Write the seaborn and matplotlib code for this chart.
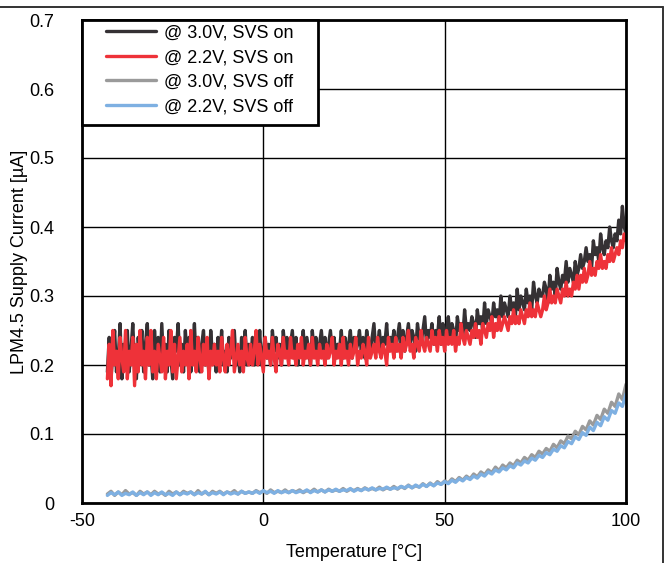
import matplotlib
matplotlib.use("Agg")
import matplotlib.pyplot as plt
from matplotlib.lines import Line2D
from matplotlib.patches import Rectangle
import numpy as np
import pandas as pd
import seaborn as sns

# Sweep range [degC]
t_start, t_stop = -43, 100

# LPM4.5 supply current [uA], 3.0 V, SVS on (0.5 degC steps)
i_30_svs_on = [
    0.19, 0.24, 0.18, 0.22, 0.25, 0.19, 0.21, 0.26, 0.18, 0.23, 0.20, 0.25, 0.19, 0.22, 0.26, 0.20, 0.18, 0.24, 0.21, 0.25,
    0.19, 0.23, 0.26, 0.20, 0.22, 0.18, 0.25, 0.21, 0.24, 0.19, 0.26, 0.20, 0.23, 0.19, 0.25, 0.21, 0.18, 0.24, 0.22, 0.26,
    0.20, 0.23, 0.19, 0.25, 0.21, 0.24, 0.19, 0.22, 0.26, 0.20, 0.24, 0.19, 0.23, 0.25, 0.20, 0.22, 0.19, 0.25, 0.21, 0.23,
    0.19, 0.24, 0.21, 0.25, 0.20, 0.22, 0.19, 0.24, 0.21, 0.23, 0.25, 0.20, 0.22, 0.19, 0.24, 0.21, 0.25, 0.20, 0.23, 0.21,
    0.24, 0.20, 0.23, 0.21, 0.25, 0.20, 0.22, 0.24, 0.21, 0.23, 0.20, 0.25, 0.22, 0.24, 0.21, 0.23, 0.20, 0.25, 0.22, 0.24,
    0.21, 0.23, 0.25, 0.21, 0.24, 0.20, 0.23, 0.22, 0.25, 0.21, 0.24, 0.22, 0.20, 0.25, 0.22, 0.24, 0.21, 0.23, 0.25, 0.22,
    0.24, 0.21, 0.23, 0.25, 0.22, 0.24, 0.21, 0.23, 0.22, 0.25, 0.21, 0.24, 0.22, 0.23, 0.25, 0.21, 0.24, 0.22, 0.23, 0.25,
    0.22, 0.24, 0.21, 0.25, 0.23, 0.22, 0.24, 0.26, 0.22, 0.23, 0.25, 0.22, 0.24, 0.23, 0.26, 0.22, 0.24, 0.23, 0.25, 0.22,
    0.24, 0.26, 0.23, 0.25, 0.22, 0.24, 0.26, 0.23, 0.25, 0.24, 0.22, 0.26, 0.24, 0.23, 0.25, 0.27, 0.23, 0.25, 0.24, 0.26,
    0.23, 0.25, 0.24, 0.27, 0.23, 0.26, 0.24, 0.25, 0.27, 0.24, 0.26, 0.25, 0.23, 0.27, 0.25, 0.26, 0.24, 0.28, 0.25, 0.26,
    0.25, 0.27, 0.26, 0.24, 0.28, 0.26, 0.27, 0.25, 0.29, 0.26, 0.28, 0.27, 0.26, 0.29, 0.27, 0.28, 0.26, 0.30, 0.27, 0.29,
    0.28, 0.27, 0.30, 0.28, 0.29, 0.27, 0.31, 0.28, 0.30, 0.29, 0.28, 0.31, 0.29, 0.30, 0.28, 0.32, 0.30, 0.29, 0.31, 0.30,
    0.30, 0.32, 0.31, 0.29, 0.33, 0.31, 0.32, 0.30, 0.34, 0.32, 0.31, 0.33, 0.32, 0.35, 0.32, 0.34, 0.33, 0.32, 0.35, 0.33,
    0.34, 0.36, 0.34, 0.35, 0.37, 0.35, 0.36, 0.34, 0.38, 0.36, 0.37, 0.35, 0.39, 0.37, 0.36, 0.38, 0.37, 0.40, 0.38, 0.37,
    0.39, 0.38, 0.41, 0.39, 0.43, 0.40, 0.39,
]

# 2.2 V, SVS on (0.5 degC steps)
i_22_svs_on = [
    0.18, 0.23, 0.17, 0.25, 0.20, 0.22, 0.18, 0.24, 0.21, 0.19, 0.25, 0.18, 0.22, 0.20, 0.24, 0.17, 0.23, 0.19, 0.25, 0.20,
    0.22, 0.18, 0.24, 0.20, 0.25, 0.19, 0.22, 0.18, 0.23, 0.21, 0.19, 0.24, 0.18, 0.22, 0.20, 0.25, 0.19, 0.23, 0.18, 0.21,
    0.24, 0.19, 0.22, 0.20, 0.23, 0.18, 0.25, 0.20, 0.22, 0.19, 0.24, 0.21, 0.19, 0.23, 0.20, 0.24, 0.18, 0.22, 0.20, 0.23,
    0.20, 0.22, 0.19, 0.24, 0.21, 0.19, 0.23, 0.20, 0.22, 0.25, 0.19, 0.21, 0.23, 0.20, 0.22, 0.19, 0.24, 0.21, 0.20, 0.23,
    0.20, 0.22, 0.25, 0.20, 0.23, 0.21, 0.19, 0.24, 0.21, 0.22, 0.20, 0.24, 0.21, 0.19, 0.23, 0.22, 0.20, 0.24, 0.21, 0.22,
    0.20, 0.24, 0.21, 0.22, 0.20, 0.23, 0.21, 0.24, 0.20, 0.22, 0.21, 0.23, 0.20, 0.24, 0.21, 0.22, 0.20, 0.23, 0.21, 0.22,
    0.20, 0.23, 0.21, 0.22, 0.24, 0.20, 0.22, 0.21, 0.23, 0.20, 0.24, 0.21, 0.22, 0.20, 0.23, 0.21, 0.22, 0.24, 0.20, 0.22,
    0.21, 0.23, 0.22, 0.20, 0.24, 0.21, 0.22, 0.23, 0.21, 0.24, 0.22, 0.21, 0.23, 0.22, 0.20, 0.24, 0.22, 0.23, 0.21, 0.24,
    0.22, 0.23, 0.21, 0.24, 0.22, 0.23, 0.25, 0.22, 0.23, 0.21, 0.24, 0.23, 0.22, 0.25, 0.23, 0.22, 0.24, 0.23, 0.22, 0.25,
    0.23, 0.24, 0.22, 0.25, 0.23, 0.24, 0.22, 0.25, 0.23, 0.24, 0.23, 0.25, 0.22, 0.24, 0.23, 0.26, 0.24, 0.23, 0.25, 0.24,
    0.23, 0.25, 0.24, 0.26, 0.24, 0.25, 0.23, 0.26, 0.25, 0.24, 0.26, 0.25, 0.27, 0.24, 0.26, 0.25, 0.27, 0.25, 0.26, 0.27,
    0.26, 0.25, 0.27, 0.26, 0.28, 0.26, 0.27, 0.26, 0.28, 0.27, 0.26, 0.28, 0.27, 0.29, 0.27, 0.28, 0.27, 0.29, 0.28, 0.27,
    0.28, 0.30, 0.28, 0.29, 0.31, 0.29, 0.30, 0.29, 0.31, 0.30, 0.29, 0.31, 0.30, 0.32, 0.30, 0.31, 0.30, 0.32, 0.31, 0.33,
    0.31, 0.33, 0.32, 0.34, 0.32, 0.33, 0.35, 0.33, 0.34, 0.33, 0.35, 0.34, 0.36, 0.34, 0.35, 0.34, 0.36, 0.35, 0.37, 0.35,
    0.36, 0.37, 0.36, 0.38, 0.37, 0.39, 0.38,
]

# 3.0 V, SVS off (1 degC steps)
i_30_svs_off = [
    0.013, 0.017, 0.011, 0.016, 0.012, 0.018, 0.013, 0.015, 0.011, 0.017,
    0.013, 0.016, 0.012, 0.017, 0.013, 0.015, 0.011, 0.017, 0.013, 0.016,
    0.012, 0.017, 0.014, 0.016, 0.012, 0.018, 0.013, 0.016, 0.012, 0.017,
    0.014, 0.017, 0.013, 0.016, 0.014, 0.018, 0.013, 0.017, 0.014, 0.016,
    0.014, 0.018, 0.015, 0.017, 0.014, 0.019, 0.015, 0.017, 0.015, 0.019,
    0.015, 0.018, 0.016, 0.019, 0.015, 0.018, 0.016, 0.020, 0.016, 0.019,
    0.016, 0.020, 0.017, 0.019, 0.017, 0.021, 0.017, 0.020, 0.018, 0.021,
    0.018, 0.022, 0.019, 0.021, 0.019, 0.023, 0.019, 0.022, 0.020, 0.024,
    0.020, 0.024, 0.021, 0.026, 0.022, 0.025, 0.023, 0.028, 0.024, 0.029,
    0.025, 0.031, 0.027, 0.032, 0.029, 0.035, 0.031, 0.037, 0.033, 0.039,
    0.035, 0.042, 0.038, 0.045, 0.041, 0.048, 0.044, 0.052, 0.047, 0.055,
    0.051, 0.058, 0.054, 0.062, 0.058, 0.066, 0.062, 0.070, 0.066, 0.075,
    0.071, 0.079, 0.075, 0.085, 0.080, 0.090, 0.086, 0.097, 0.093, 0.104,
    0.099, 0.111, 0.106, 0.119, 0.113, 0.127, 0.121, 0.136, 0.130, 0.146,
    0.140, 0.158, 0.150, 0.172,
]

# 2.2 V, SVS off (1 degC steps)
i_22_svs_off = [
    0.011, 0.015, 0.012, 0.016, 0.011, 0.014, 0.012, 0.016, 0.011, 0.015,
    0.012, 0.016, 0.011, 0.015, 0.012, 0.016, 0.012, 0.014, 0.011, 0.016,
    0.012, 0.015, 0.013, 0.016, 0.012, 0.015, 0.013, 0.017, 0.012, 0.015,
    0.013, 0.016, 0.012, 0.016, 0.013, 0.015, 0.013, 0.017, 0.014, 0.016,
    0.014, 0.017, 0.014, 0.018, 0.015, 0.017, 0.014, 0.018, 0.015, 0.017,
    0.015, 0.018, 0.015, 0.017, 0.016, 0.019, 0.015, 0.018, 0.016, 0.019,
    0.016, 0.019, 0.017, 0.020, 0.017, 0.019, 0.018, 0.021, 0.017, 0.020,
    0.018, 0.021, 0.019, 0.022, 0.019, 0.021, 0.020, 0.023, 0.020, 0.022,
    0.021, 0.024, 0.022, 0.025, 0.022, 0.026, 0.023, 0.027, 0.024, 0.028,
    0.025, 0.029, 0.027, 0.031, 0.028, 0.033, 0.030, 0.035, 0.032, 0.037,
    0.034, 0.039, 0.036, 0.042, 0.039, 0.045, 0.042, 0.048, 0.045, 0.051,
    0.048, 0.054, 0.051, 0.058, 0.055, 0.061, 0.058, 0.065, 0.062, 0.069,
    0.066, 0.073, 0.070, 0.078, 0.075, 0.083, 0.080, 0.089, 0.086, 0.096,
    0.092, 0.102, 0.098, 0.110, 0.105, 0.117, 0.112, 0.125, 0.120, 0.134,
    0.130, 0.145, 0.140, 0.158,
]

series_names = ["@ 3.0V, SVS on", "@ 2.2V, SVS on", "@ 3.0V, SVS off", "@ 2.2V, SVS off"]
series_values = [i_30_svs_on, i_22_svs_on, i_30_svs_off, i_22_svs_off]
series_colors = ["#353134", "#EE3239", "#9A9A9A", "#7EB0E2"]

x_ticks = [-50, 0, 50, 100]
y_ticks = [0, 0.1, 0.2, 0.3, 0.4, 0.5, 0.6, 0.7]

# Long-form table; each series is evenly spaced across the sweep
df = pd.concat(
    [pd.DataFrame({"Temperature": np.linspace(t_start, t_stop, len(vals)),
                   "Current": vals, "Series": name})
     for name, vals in zip(series_names, series_values)],
    ignore_index=True,
)

sns.set_theme(style="white")
plt.rcParams["font.family"] = ["Liberation Sans", "DejaVu Sans"]

W, H = 669, 563
fig = plt.figure(figsize=(W / 100, H / 100), dpi=100)
ax = fig.add_axes([82 / W, 1 - 503 / H, (626 - 82) / W, (503 - 20) / H])
ax_w, ax_h = 626 - 82, 503 - 20

sns.lineplot(
    data=df, x="Temperature", y="Current", hue="Series",
    hue_order=series_names, palette=dict(zip(series_names, series_colors)),
    estimator=None, sort=False, linewidth=2.4, legend=False, ax=ax,
)

ax.set_xlim(-50, 100)
ax.set_ylim(0, 0.7)
ax.set_xticks(x_ticks)
ax.set_yticks(y_ticks)
ax.set_xticklabels([str(v) for v in x_ticks])
ax.set_yticklabels(["0"] + [f"{v:.1f}" for v in y_ticks[1:]])
ax.tick_params(axis="both", length=0, labelsize=13, colors="black")
ax.tick_params(axis="y", pad=20)
ax.tick_params(axis="x", pad=7)

ax.grid(True, color="black", linewidth=1.0)
ax.set_axisbelow(True)
for s in ax.spines.values():
    s.set_color("black")
    s.set_linewidth(2.0)
    s.set_visible(True)

ax.set_xlabel("Temperature [°C]", fontsize=13, color="black", labelpad=10)
ax.set_ylabel("LPM4.5 Supply Current [µA]", fontsize=13, color="black")
ax.yaxis.set_label_coords((28 - 82) / ax_w, 0.5)

# Legend: white boxed panel in the upper-left corner
box = Rectangle((0, 1 - (125 - 20) / ax_h), (318 - 82) / ax_w, (125 - 20) / ax_h,
                transform=ax.transAxes, facecolor="white", edgecolor="black",
                linewidth=2.0, zorder=6, clip_on=False)
ax.add_patch(box)

handles = [Line2D([0], [0], color=c, linewidth=2.4) for c in series_colors]
leg = ax.legend(
    handles, series_names, loc="upper left",
    bbox_to_anchor=((101 - 82) / ax_w, 1), borderaxespad=0, fontsize=13,
    frameon=False, handlelength=2.8, handletextpad=0.45, labelspacing=0.42,
    borderpad=0.25,
)
leg.set_zorder(7)
for t in leg.get_texts():
    t.set_color("black")

# Thin border lines along the top and right edges of the figure
fig.add_artist(Line2D([0, 663 / W], [1 - 7 / H, 1 - 7 / H], color="#333333",
                      linewidth=1.4, transform=fig.transFigure))
fig.add_artist(Line2D([663 / W, 663 / W], [0, 1 - 7 / H], color="#333333",
                      linewidth=1.4, transform=fig.transFigure))

fig.savefig("out.png", dpi=100)
